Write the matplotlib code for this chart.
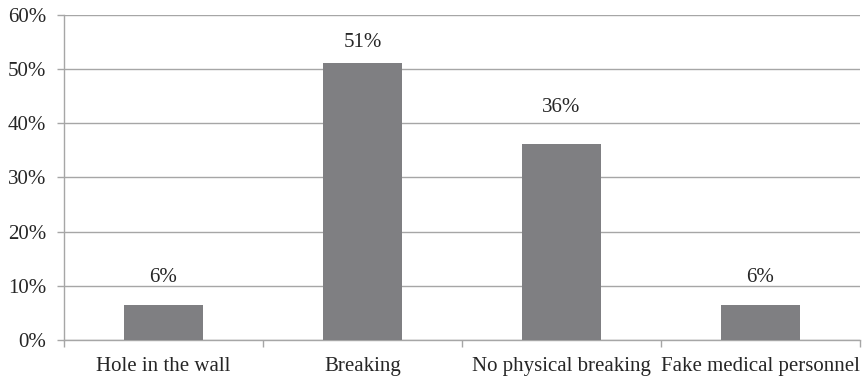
import matplotlib
matplotlib.use("Agg")
import matplotlib.pyplot as plt
import numpy as np

categories = ["Hole in the wall", "Breaking", "No physical breaking", "Fake medical personnel"]
values = [6.38, 51.06, 36.17, 6.38]
yticks = [0, 10, 20, 30, 40, 50, 60]

# vertical position of each value label above its bar (percentage points)
label_offsets = [5.2, 3.9, 6.7, 5.2]

plt.rcParams["font.family"] = ["Liberation Serif", "DejaVu Serif"]

fig = plt.figure(figsize=(8.67, 3.79), dpi=100)
ax = fig.add_axes([64 / 867, 1 - 340 / 379, (860 - 64) / 867, (340 - 14.7) / 379])

grid_c = "#a6a6a6"
text_c = "#262626"
fs = 15
x = np.arange(len(categories))
ax.bar(x, values, width=0.4, color="#7f7f82", zorder=3)
for xi, v, off in zip(x, values, label_offsets):
    ax.text(xi, v + off, f"{v:.0f}%", ha="center", va="center", fontsize=fs, color=text_c)

ax.set_xlim(-0.5, len(categories) - 0.5)
ax.set_ylim(0, 60)
ax.set_yticks(yticks)
ax.set_yticklabels([f"{t}%" for t in yticks], fontsize=fs, color=text_c)
ax.yaxis.grid(True, color=grid_c, linewidth=1, zorder=0)
ax.tick_params(axis="y", length=5, color=grid_c, width=1, pad=8)

# category boundaries as x ticks
ax.set_xticks(np.arange(-0.5, len(categories), 1.0))
ax.set_xticklabels([])
ax.set_xticks(x, minor=True)
ax.set_xticklabels(categories, minor=True, fontsize=fs, color=text_c)
ax.tick_params(axis="x", which="major", length=5, color=grid_c, width=1)
ax.tick_params(axis="x", which="minor", length=0, pad=12.5)

for s in ["top", "right"]:
    ax.spines[s].set_visible(False)
for s in ["left", "bottom"]:
    ax.spines[s].set_color(grid_c)
    ax.spines[s].set_linewidth(1)

fig.savefig("out.png", dpi=100)
